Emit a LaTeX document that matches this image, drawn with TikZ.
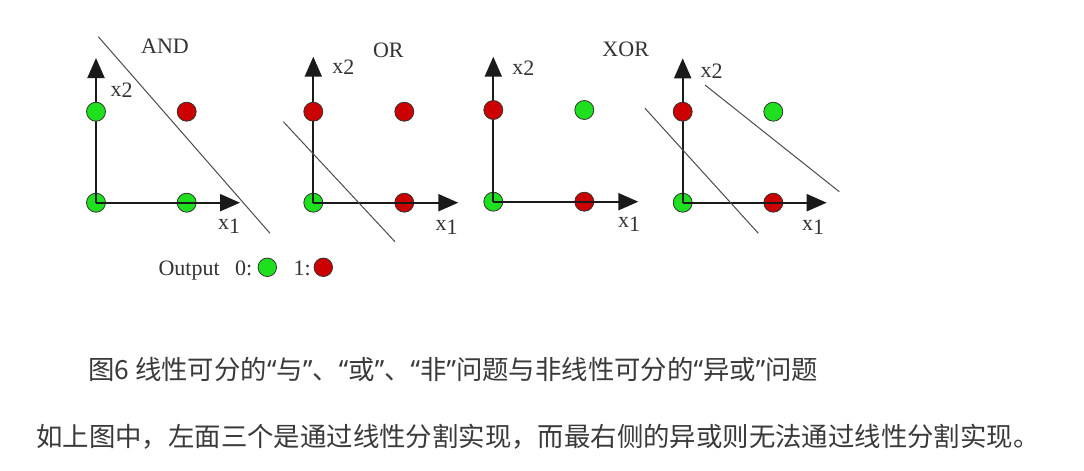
\documentclass[tikz,border=0pt]{standalone}
\usepackage{fontspec}
\usetikzlibrary{arrows.meta}
\newfontfamily\lbfont{Liberation Serif}
\newfontfamily\cjkfont{Noto Sans CJK SC}
\newfontfamily\quotefont{Noto Sans}
\definecolor{ptgreen}{HTML}{1EE01E}
\definecolor{ptred}{HTML}{CC0000}
\definecolor{txtgray}{HTML}{3A3A3A}
\definecolor{axgray}{HTML}{1A1A1A}
\tikzset{
  axisline/.style={draw=axgray, line width=2pt, -{Triangle[length=20pt,width=17pt]}},
  sepline/.style={draw=black!70, line width=1pt},
  ptbase/.style={circle, minimum size=19pt, inner sep=0pt, draw=black!80, line width=0.8pt},
  gpt/.style={ptbase, fill=ptgreen},
  rpt/.style={ptbase, fill=ptred},
  lbl/.style={font=\lbfont\fontsize{22}{26}\selectfont, text=black!80, inner sep=0pt},
  cjktext/.style={font=\cjkfont\fontsize{26.4}{32}\selectfont, text=txtgray, inner sep=0pt, anchor=west}
}
\newcommand{\xone}{x\raisebox{-4pt}{1}}
\newcommand{\xtwo}{x\raisebox{-1pt}{2}}
\newcommand{\cqo}{{\quotefont “}}
\newcommand{\cqc}{{\quotefont ”}}
\begin{document}
\begin{tikzpicture}[x=1pt,y=-1pt]
\useasboundingbox[fill=white] (0,0) rectangle (1084,471);

% ---------- AND ----------
\node[gpt] (a00) at (96,202.7) {};
\node[gpt] (a10) at (186.7,202.7) {};
\coordinate (aY) at (96,58);
\coordinate (aX) at (240,202.7);
\draw[axisline] (a00.center) -- (aY);
\draw[axisline] (a00.center) -- (aX);
\node[gpt] (a01) at (96,111.7) {};
\node[rpt] (a11) at (186.7,111.7) {};
\coordinate (aL1) at (98.3,36.7);
\coordinate (aL2) at (270,233.3);
\draw[sepline] (aL1) -- (aL2);
\node[lbl] (andlbl) at (165,46) {AND};
\node[lbl] (ax2) at (121.7,90) {\xtwo};
\node[lbl] (ax1) at (229,226) {\xone};

% ---------- OR ----------
\node[gpt] (o00) at (313.3,202.7) {};
\node[rpt] (o10) at (404.3,202.7) {};
\coordinate (oY) at (313.3,56.7);
\coordinate (oX) at (458.3,202.7);
\draw[axisline] (o00.center) -- (oY);
\draw[axisline] (o00.center) -- (oX);
\node[rpt] (o01) at (313.3,111.7) {};
\node[rpt] (o11) at (404.3,111.7) {};
\coordinate (oL1) at (283.3,121.7);
\coordinate (oL2) at (395,241.7);
\draw[sepline] (oL1) -- (oL2);
\node[lbl] (orlbl) at (388.3,50) {OR};
\node[lbl] (ox2) at (343.3,67) {\xtwo};
\node[lbl] (ox1) at (446.7,227) {\xone};

% ---------- XOR ----------
\node[gpt] (x00) at (493.3,201.7) {};
\node[rpt] (x10) at (584.3,201.7) {};
\coordinate (xY) at (493.3,56.7);
\coordinate (xX) at (638.3,201.7);
\draw[axisline] (x00.center) -- (xY);
\draw[axisline] (x00.center) -- (xX);
\node[rpt] (x01) at (493.3,110) {};
\node[gpt] (x11) at (584.3,110) {};
\node[lbl] (xorlbl) at (625.7,49) {XOR};
\node[lbl] (xx2) at (523.3,68) {\xtwo};
\node[lbl] (xx1) at (629,224) {\xone};

% ---------- XOR with two lines ----------
\node[gpt] (y00) at (682.7,202.7) {};
\node[rpt] (y10) at (773.3,202.7) {};
\coordinate (yY) at (682.7,58.3);
\coordinate (yX) at (826.7,202.7);
\draw[axisline] (y00.center) -- (yY);
\draw[axisline] (y00.center) -- (yX);
\node[rpt] (y01) at (682.7,111.7) {};
\node[gpt] (y11) at (773.3,111.7) {};
\coordinate (yL1) at (645,108.3);
\coordinate (yL2) at (758.3,233.3);
\coordinate (yL3) at (705,85);
\coordinate (yL4) at (839.3,191.7);
\draw[sepline] (yL1) -- (yL2);
\draw[sepline] (yL3) -- (yL4);
\node[lbl] (yx2) at (711.7,71.7) {\xtwo};
\node[lbl] (yx1) at (813,227) {\xone};

% ---------- legend ----------
\node[lbl, anchor=base west] (outlbl) at (158.3,275) {Output};
\node[lbl, anchor=base west] (zerolbl) at (235,275) {0:};
\node[gpt, minimum size=18.5pt] (leg0) at (267.3,267.3) {};
\node[lbl, anchor=base west] (onelbl) at (293.3,275) {1:};
\node[rpt, minimum size=18.5pt] (leg1) at (323.3,267.3) {};

% ---------- captions ----------
\node[cjktext] (cap) at (88,369.7) {图6 线性可分的\cqo 与\cqc 、\cqo 或\cqc 、\cqo 非\cqc 问题与非线性可分的\cqo 异或\cqc 问题};
\node[cjktext] (expl) at (36,436.7) {如上图中，左面三个是通过线性分割实现，而最右侧的异或则无法通过线性分割实现。};
\end{tikzpicture}
\end{document}
